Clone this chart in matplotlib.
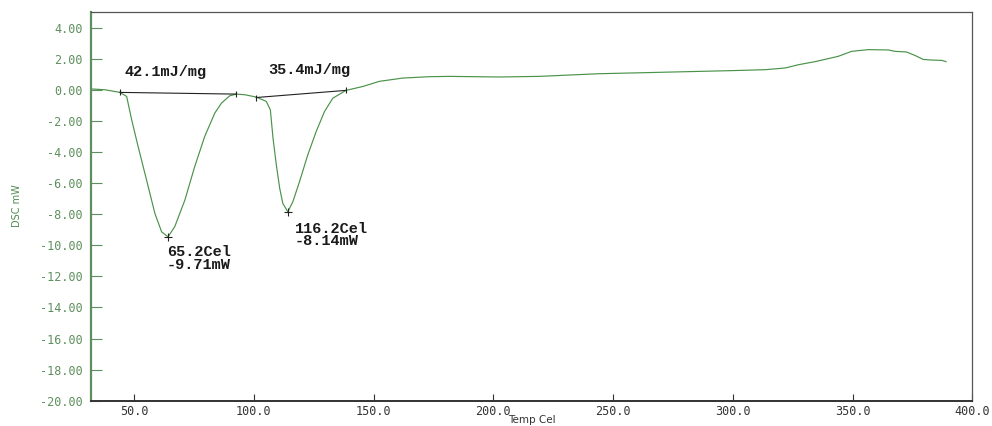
import numpy as np
import matplotlib
matplotlib.use("Agg")
import matplotlib.pyplot as plt
from matplotlib.ticker import FormatStrFormatter

# DSC trace
temp = [32.3, 37.8, 44.1, 46.9, 49.0, 51.7, 55.2, 58.7, 61.5, 64.2, 67.0, 71.2,
        75.3, 79.5, 83.7, 86.5, 89.9, 92.7, 96.2, 101.0, 105.2, 106.9, 108.0,
        109.4, 110.8, 112.1, 114.2, 116.3, 119.1, 122.5, 126.0, 129.5, 133.0,
        138.5, 145.5, 152.4, 162.1, 173.3, 181.6, 202.4, 219.0, 244.0, 274.6,
        299.6, 313.5, 321.9, 327.4, 334.4, 344.0, 349.6, 356.6, 364.9, 367.7,
        372.5, 376.0, 379.5, 383.0, 387.1, 389.0]
dsc = [0.05, 0.0, -0.17, -0.43, -1.94, -3.66, -5.8, -7.96, -9.14, -9.46, -8.8,
       -7.1, -4.95, -3.0, -1.5, -0.86, -0.39, -0.28, -0.32, -0.47, -0.75, -1.29,
       -3.1, -4.84, -6.34, -7.31, -7.85, -7.2, -5.9, -4.2, -2.7, -1.4, -0.54,
       -0.04, 0.21, 0.54, 0.75, 0.84, 0.86, 0.82, 0.86, 1.03, 1.14, 1.23, 1.29,
       1.40, 1.61, 1.81, 2.15, 2.47, 2.58, 2.56, 2.47, 2.43, 2.21, 1.95, 1.91,
       1.89, 1.81]

# integration baselines (start/end of each peak)
base_t = [[44.1, 92.7], [101.0, 138.5]]
base_dsc = [[-0.17, -0.28], [-0.50, -0.04]]
enthalpy = ["42.1mJ/mg", "35.4mJ/mg"]

# peak minima
peak_t = [64.2, 114.2]
peak_dsc = [-9.46, -7.85]
peak_text = ["65.2Cel\n-9.71mW", "116.2Cel\n-8.14mW"]

plt.rcParams["axes.unicode_minus"] = False

fig = plt.figure(figsize=(9.92, 4.26), dpi=100)
ax = fig.add_axes([0.0917, 0.0594, 0.8885, 0.9124])

ax.plot(temp, dsc, color="#4a924a", linewidth=0.85)

for bt, bd in zip(base_t, base_dsc):
    ax.plot(bt, bd, color="#222222", linewidth=0.8)
    ax.plot(bt, bd, linestyle="none", marker="|", color="#222222", markersize=5, markeredgewidth=0.8)

ax.plot(peak_t, peak_dsc, linestyle="none", marker="+", color="#222222", markersize=6, markeredgewidth=0.8)

lbl_font = dict(family="Liberation Mono", weight="bold", size=11, color="#1a1a1a")

ax.annotate(enthalpy[0], (base_t[0][0], base_dsc[0][0]), xytext=(3, 15),
            textcoords="offset points", ha="left", va="center", **lbl_font)
ax.annotate(enthalpy[1], (base_t[1][0], base_dsc[1][0]), xytext=(8.5, 20),
            textcoords="offset points", ha="left", va="center", **lbl_font)

ax.annotate(peak_text[0], (peak_t[0], peak_dsc[0]), xytext=(-1, -6),
            textcoords="offset points", ha="left", va="top", linespacing=0.92, **lbl_font)
ax.annotate(peak_text[1], (peak_t[1], peak_dsc[1]), xytext=(5, -7),
            textcoords="offset points", ha="left", va="top", linespacing=0.86, **lbl_font)

ax.set_xlim(32, 400)
ax.set_ylim(-20, 5)
ax.set_xticks(np.arange(50, 401, 50))
ax.set_yticks(np.arange(-20, 5, 2))
ax.xaxis.set_major_formatter(FormatStrFormatter("%.1f"))
ax.yaxis.set_major_formatter(FormatStrFormatter("%.2f"))

ax.tick_params(axis="y", direction="in", length=8, width=0.8, colors="#5e8f5e",
               labelsize=8.5, pad=6)
ax.tick_params(axis="x", direction="in", length=5, width=0.8, colors="#333333",
               labelsize=8.5, pad=3)
for lab in ax.get_xticklabels() + ax.get_yticklabels():
    lab.set_family("DejaVu Sans Mono")

ax.spines["left"].set_color("#5e8f5e")
ax.spines["left"].set_linewidth(1.6)
ax.spines["bottom"].set_color("#333333")
ax.spines["bottom"].set_linewidth(1.4)
for s in ("top", "right"):
    ax.spines[s].set_color("#555555")
    ax.spines[s].set_linewidth(0.9)

ax.set_xlabel("Temp Cel", fontsize=7.5, color="#333333")
ax.xaxis.set_label_coords(0.5, -0.036)
ax.set_ylabel("DSC mW", fontsize=7, color="#4f8a4f")
ax.yaxis.set_label_coords(-0.078, 0.503)

fig.savefig("out.png", dpi=100)
